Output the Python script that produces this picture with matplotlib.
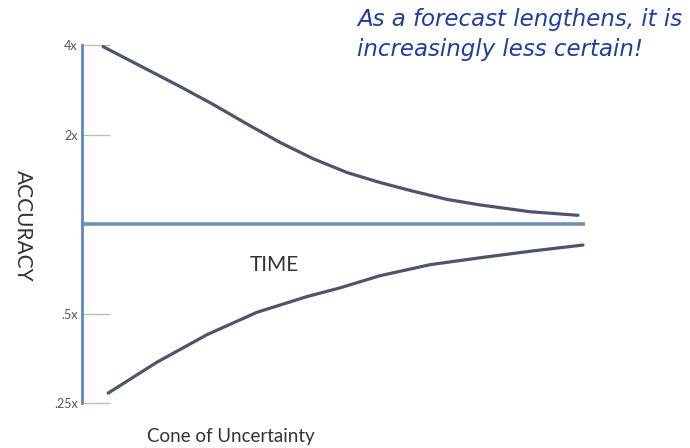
import matplotlib.pyplot as plt

# cone of uncertainty: accuracy multiplier vs time (time in % of span)
upper_time = [4.2, 19.5, 26.0, 32.8, 39.4, 45.9, 52.7, 59.2, 65.8, 72.6, 79.1, 89.1, 98.6]
upper_acc = [3.95, 2.90, 2.53, 2.17, 1.88, 1.66, 1.49, 1.38, 1.29, 1.21, 1.16, 1.10, 1.07]
lower_time = [5.2, 14.9, 24.9, 34.8, 44.7, 51.3, 59.2, 69.2, 79.1, 89.1, 99.6]
lower_acc = [0.27, 0.343, 0.425, 0.505, 0.57, 0.61, 0.67, 0.73, 0.77, 0.81, 0.85]
tick_vals = [0.25, 0.5, 2, 4]
tick_labels = ['.25x', '.5x', '2x', '4x']
baseline_time = [0, 100]
baseline_acc = [1, 1]

W, H = 690, 448
fig = plt.figure(figsize=(W / 100, H / 100), dpi=100)
fig.patch.set_facecolor('white')

# axes box in pixels, log2 scale at ~89.5 px per octave
left, right, top, bottom = 82, 600, 30, 412
ax = fig.add_axes([left / W, 1 - bottom / H, (right - left) / W, (bottom - top) / H])
ax.set_yscale('log', base=2)
ax.set_xlim(0, (right - left) / 503 * 100)
ax.set_ylim(2 ** -2.10, 2 ** 2.168)

ax.plot(baseline_time, baseline_acc, color='#6d90b8', lw=2.6, solid_capstyle='butt')
ax.plot(upper_time, upper_acc, color='#4b5668', lw=2.3, solid_capstyle='round')
ax.plot(lower_time, lower_acc, color='#4b5668', lw=2.3, solid_capstyle='round')

for s in ['top', 'right', 'bottom']:
    ax.spines[s].set_visible(False)
ax.spines['left'].set_color('#5b88bd')
ax.spines['left'].set_linewidth(2)
ax.spines['left'].set_bounds(0.25, 4)

ax.set_xticks([])
ax.yaxis.set_minor_locator(plt.NullLocator())
ax.set_yticks(tick_vals)
ax.set_yticklabels(tick_labels, fontsize=9, color='#555555', family='Lato')
ax.tick_params(axis='y', direction='in', length=20, width=1, color='#b8c0b8', pad=3)

fig.text(23 / W, 1 - 226 / H, 'ACCURACY', rotation=-90, ha='center', va='center',
         fontsize=15, color='#333333', family='Lato')
fig.text(274 / W, 1 - 265 / H, 'TIME', ha='center', va='center',
         fontsize=15, color='#333333', family='Lato')
fig.text(231 / W, 1 - 436 / H, 'Cone of Uncertainty', ha='center', va='center',
         fontsize=13.5, color='#333333', family='Lato')
fig.text(357 / W, 1 - 8 / H, 'As a forecast lengthens, it is\nincreasingly less certain!',
         ha='left', va='top', fontsize=16.5, style='italic', color='#1f3f9f',
         family='DejaVu Sans', linespacing=1.4)

fig.savefig('out.png', dpi=100, facecolor='white')
